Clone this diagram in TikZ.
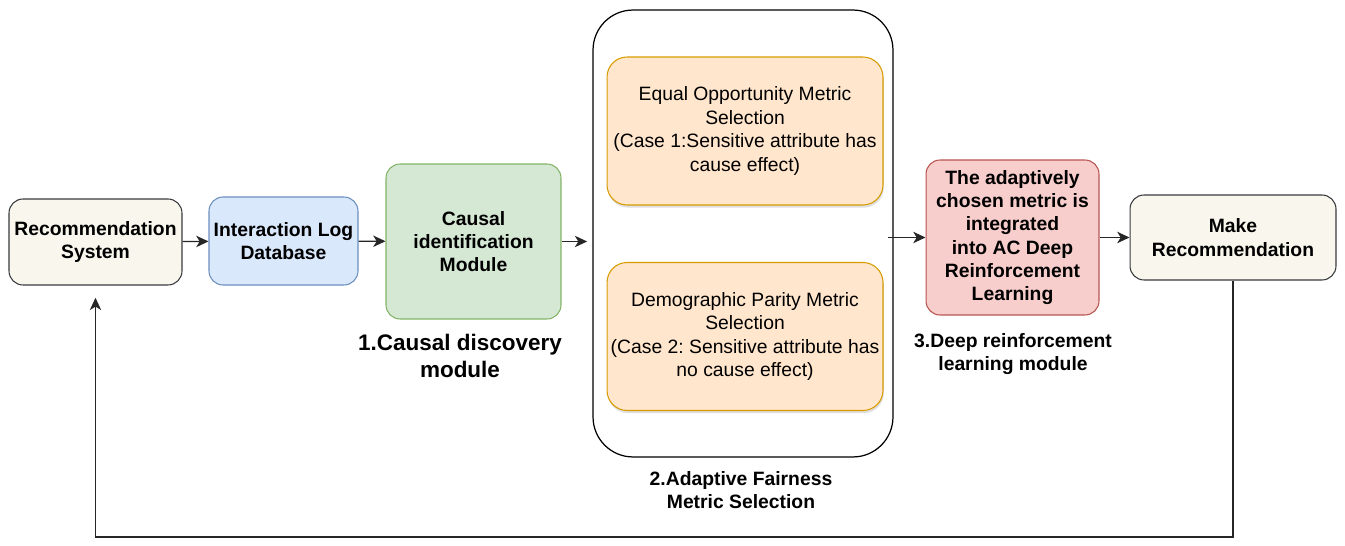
\documentclass[tikz,border=0pt]{standalone}
\usepackage{fontspec}
\setmainfont{Liberation Sans}
\frenchspacing
\usetikzlibrary{arrows.meta,shadows}
\definecolor{recfill}{HTML}{F9F7ED}
\definecolor{recdraw}{HTML}{36393D}
\definecolor{logfill}{HTML}{DAE8FC}
\definecolor{logdraw}{HTML}{6C8EBF}
\definecolor{cdfill}{HTML}{D5E8D4}
\definecolor{cddraw}{HTML}{82B366}
\definecolor{mfill}{HTML}{FFE6CC}
\definecolor{mdraw}{HTML}{D79B00}
\definecolor{rlfill}{HTML}{F8CECC}
\definecolor{rldraw}{HTML}{B85450}
\newcommand*{\boxfont}{\fontsize{11}{13.3}\selectfont}
\newcommand*{\bigfont}{\fontsize{12.8}{15.5}\selectfont}

\begin{document}
\begin{tikzpicture}[x=0.02cm,y=-0.02cm,
    box/.style={draw, rounded corners=0.28cm, align=center, inner sep=1pt, font=\boxfont, line width=0.6pt},
    metric/.style={box, fill=mfill, draw=mdraw, rounded corners=0.4cm, minimum width=5.52cm, minimum height=2.96cm,
                   drop shadow={shadow xshift=0.5pt, shadow yshift=-1.5pt, fill=black!25}},
    lbl/.style={align=center, font=\boxfont\bfseries},
    arr/.style={-{Stealth[length=7pt,width=6.5pt,inset=2pt]}, line width=0.75pt, draw=black!85}]
    \useasboundingbox (0,0) rectangle (1345,546);
    \node [box, fill=recfill, draw=recdraw, minimum width=3.46cm, minimum height=1.72cm, font=\boxfont\bfseries] (rec) at (95.5,242) {Recommendation\\System};
    \node [box, fill=logfill, draw=logdraw, minimum width=2.98cm, minimum height=1.76cm, font=\boxfont\bfseries] (log) at (283.5,241) {Interaction Log\\Database};
    \node [box, fill=cdfill, draw=cddraw, minimum width=3.5cm, minimum height=3.1cm, font=\boxfont\bfseries] (cause) at (473.5,241.5) {Causal\\identification\\Module};
    \node [draw, rounded corners=0.8cm, line width=0.7pt, minimum width=6cm, minimum height=8.94cm] (fair) at (743,233.5) {};
    \node [metric] (eqop) at (745,131) {Equal Opportunity Metric\\Selection\\(Case 1:Sensitive attribute has\\cause effect)};
    \node [metric] (demo) at (745,336.5) {Demographic Parity Metric\\Selection\\(Case 2: Sensitive attribute has\\no cause effect)};
    \node [box, fill=rlfill, draw=rldraw, minimum width=3.46cm, minimum height=3.1cm, font=\boxfont\bfseries] (drl) at (1012.5,237.5) {The adaptively\\chosen metric is\\integrated\\into AC Deep\\Reinforcement\\Learning};
    \node [box, fill=recfill, draw=recdraw, minimum width=4.12cm, minimum height=1.7cm, font=\boxfont\bfseries] (make) at (1233,237.5) {Make\\Recommendation};
    % module captions
    \node [lbl, font=\bigfont\bfseries] (cap1) at (460,356) {1.Causal discovery\\module};
    \node [lbl] (cap2) at (741,490) {2.Adaptive Fairness\\Metric Selection};
    \node [lbl] (cap3) at (1013,354) {3.Deep reinforcement\\learning module};
    % connectors
    \draw [arr] (rec) -- (log);
    \draw [arr] (log) -- (cause);
    \draw [arr, shorten >=3pt] (cause.east) -- (fair.west |- cause.east);
    \draw [arr] ([xshift=-3pt]fair.east |- drl.west) -- (drl.west);
    \draw [arr] (drl.east |- make.west) -- (make.west);
    \coordinate (back) at (95.5,537);
    \draw [arr, shorten >=7pt] (make.south) |- (back) -- (rec.south);
\end{tikzpicture}
\end{document}
